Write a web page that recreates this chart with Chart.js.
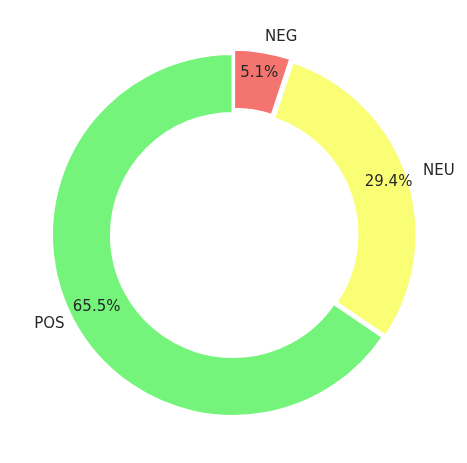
<!DOCTYPE html>
<html>
<head>
<meta charset="UTF-8" />
<script src="https://cdn.jsdelivr.net/npm/chart.js"></script>
<style>body{margin:0;background:#fff}</style>
</head>
<body>
<div style="width:467px;height:463px"><canvas id="c"></canvas></div>
<script>
const labels = ["NEG", "NEU", "POS"];
const shares = [5.1, 29.4, 65.5];
const colors = ["#f47570", "#f9fe75", "#74f47a"];
const explode = [10, 10, 0];

// draws percent labels inside the ring and category names outside
const sliceLabels = {
  id: "sliceLabels",
  afterDatasetsDraw(chart) {
    const ctx = chart.ctx;
    const arcs = chart.getDatasetMeta(0).data;
    ctx.save();
    ctx.font = "15px 'DejaVu Sans'";
    ctx.fillStyle = "#262626";
    ctx.textBaseline = "middle";
    arcs.forEach((a, i) => {
      const mid = (a.startAngle + a.endAngle) / 2;
      const R = a.outerRadius;
      const off = explode[i];
      const cx = Math.cos(mid), cy = Math.sin(mid);
      ctx.textAlign = "center";
      ctx.fillText(shares[i].toFixed(1) + "%", a.x + cx * (0.85 * R + off), a.y + cy * (0.85 * R + off));
      ctx.textAlign = cx < -0.01 ? "right" : (cx > 0.01 ? "left" : "center");
      ctx.fillText(labels[i], a.x + cx * (1.05 * R + off), a.y + cy * (1.05 * R + off));
    });
    ctx.restore();
  }
};

new Chart(document.getElementById("c"), {
  type: "doughnut",
  data: {
    labels: labels,
    datasets: [{
      data: shares,
      backgroundColor: colors,
      borderColor: "#ffffff",
      borderWidth: 3,
      offset: (c) => explode[c.dataIndex]
    }]
  },
  options: {
    responsive: true,
    maintainAspectRatio: false,
    animation: false,
    cutout: "67%",
    layout: { padding: { left: 44, right: 45, top: 47, bottom: 40 } },
    plugins: { legend: { display: false }, tooltip: { enabled: false } }
  },
  plugins: [sliceLabels]
});
</script>
</body>
</html>
